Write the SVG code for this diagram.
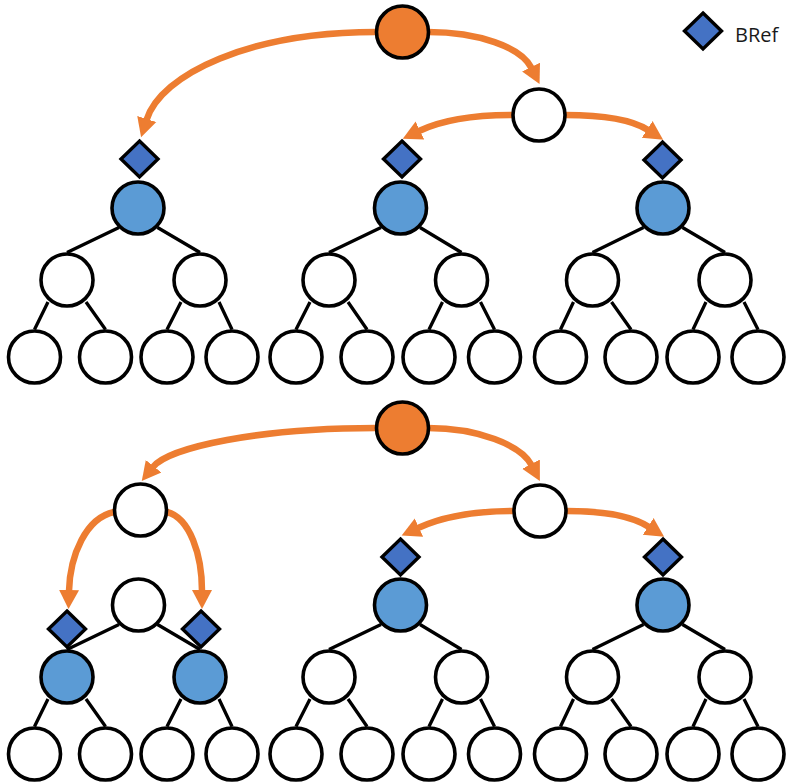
<svg xmlns="http://www.w3.org/2000/svg" width="795" height="783" viewBox="0 0 795 783">
<style>
.n{stroke:#000;stroke-width:3.6}
.w{fill:#fff}
.b{fill:#5B9BD5}
.o{fill:#ED7D31}
.d{fill:#4472C4;stroke:#000;stroke-width:3.4;stroke-linejoin:miter}
.e{stroke:#000;stroke-width:3.3;fill:none}
.a{stroke:#ED7D31;stroke-width:6.5;fill:none;marker-end:url(#ah)}
.t{font-family:"Open Sans","Liberation Sans",Arial,sans-serif;font-size:20px;fill:#1a1a1a}
</style>
<defs>
<marker id="ah" markerUnits="userSpaceOnUse" markerWidth="22" markerHeight="22" viewBox="0 -11 22 22" refX="1" refY="0" orient="auto"><path d="M0,-10 L19,0 L0,10 z" fill="#ED7D31"/></marker>
<polygon id="dia" points="0,-18 18.5,0 0,18 -18.5,0"/>
</defs>
<rect width="795" height="783" fill="#fff"/>
<g id="connectors">
<g id="tree-edges">
<path class="e" d="M119,227.5L67,252.5M157.5,227.5L200,252.5M48,302L34.5,329.5M86,302L105.5,329.5M181,302L167,329.5M219,302L232,329.5"/>
<path class="e" d="M381,227.5L329,252.5M420,227.5L461.5,252.5M310,302L296,329.5M348,302L367,329.5M442.5,302L429,329.5M480.5,302L494.5,329.5"/>
<path class="e" d="M643.5,227.5L592.5,252.5M682.5,227.5L725,252.5M573.5,302L560.5,329.5M611.5,302L631,329.5M706,302L693,329.5M744,302L758,329.5"/>
<path class="e" d="M119,624.5L67,649.5M157.5,624.5L200,649.5M48,699L34.5,726.5M86,699L105.5,726.5M181,699L167,726.5M219,699L232,726.5"/>
<path class="e" d="M381,624.5L329,649.5M420,624.5L461.5,649.5M310,699L296,726.5M348,699L367,726.5M442.5,699L429,726.5M480.5,699L494.5,726.5"/>
<path class="e" d="M643.5,624.5L592.5,649.5M682.5,624.5L725,649.5M573.5,699L560.5,726.5M611.5,699L631,726.5M706,699L693,726.5M744,699L758,726.5"/>
</g>
<g id="arrows">
<path class="a" d="M376,32 C250,32 161,74 146.5,120"/>
<path class="a" d="M428,32 C478,32 521,47 531.5,68"/>
<path class="a" d="M512,115 C470,115 442,120 419,131"/>
<path class="a" d="M565,115 C600,115 631,119 648,130"/>
<path class="a" d="M376,428 C260,428 169,447 153,467"/>
<path class="a" d="M428,428 C478,428 521,445 531.5,465"/>
<path class="a" d="M513,511 C470,511 442,517 418,528"/>
<path class="a" d="M567,511 C603,511 632,516 649,527"/>
<path class="a" d="M114,512 C86,518 70,555 69,591"/>
<path class="a" d="M167,512 C190,518 202,555 202,591"/>
</g>
</g>
<g id="top-orange"><circle class="n o" cx="402.5" cy="32" r="26"/></g>
<g id="top-mid"><circle class="n w" cx="539" cy="115" r="26"/></g>
<g id="t1-root"><circle class="n b" cx="138" cy="208" r="26"/></g>
<g id="t1-l"><circle class="n w" cx="67" cy="280" r="26"/></g>
<g id="t1-r"><circle class="n w" cx="200" cy="280" r="26"/></g>
<g id="t1-ll"><circle class="n w" cx="34.5" cy="357" r="26"/></g>
<g id="t1-lr"><circle class="n w" cx="105.5" cy="357" r="26"/></g>
<g id="t1-rl"><circle class="n w" cx="167" cy="357" r="26"/></g>
<g id="t1-rr"><circle class="n w" cx="232" cy="357" r="26"/></g>
<g id="t2-root"><circle class="n b" cx="400.5" cy="208" r="26"/></g>
<g id="t2-l"><circle class="n w" cx="329" cy="280" r="26"/></g>
<g id="t2-r"><circle class="n w" cx="461.5" cy="280" r="26"/></g>
<g id="t2-ll"><circle class="n w" cx="296" cy="357" r="26"/></g>
<g id="t2-lr"><circle class="n w" cx="367" cy="357" r="26"/></g>
<g id="t2-rl"><circle class="n w" cx="429" cy="357" r="26"/></g>
<g id="t2-rr"><circle class="n w" cx="494.5" cy="357" r="26"/></g>
<g id="t3-root"><circle class="n b" cx="663" cy="208" r="26"/></g>
<g id="t3-l"><circle class="n w" cx="592.5" cy="280" r="26"/></g>
<g id="t3-r"><circle class="n w" cx="725" cy="280" r="26"/></g>
<g id="t3-ll"><circle class="n w" cx="560.5" cy="357" r="26"/></g>
<g id="t3-lr"><circle class="n w" cx="631" cy="357" r="26"/></g>
<g id="t3-rl"><circle class="n w" cx="693" cy="357" r="26"/></g>
<g id="t3-rr"><circle class="n w" cx="758" cy="357" r="26"/></g>
<g id="t1-bref"><use href="#dia" class="d" x="139.5" y="159"/></g>
<g id="t2-bref"><use href="#dia" class="d" x="402" y="159"/></g>
<g id="t3-bref"><use href="#dia" class="d" x="662.5" y="160"/></g>
<g id="bot-orange"><circle class="n o" cx="402.5" cy="428" r="26"/></g>
<g id="bot-left"><circle class="n w" cx="140.5" cy="510" r="26"/></g>
<g id="bot-mid"><circle class="n w" cx="540" cy="511" r="26"/></g>
<g id="b1-root"><circle class="n w" cx="138.5" cy="605" r="26"/></g>
<g id="b1-l"><circle class="n b" cx="67" cy="677" r="26"/></g>
<g id="b1-r"><circle class="n b" cx="200" cy="677" r="26"/></g>
<g id="b1-ll"><circle class="n w" cx="34.5" cy="754" r="26"/></g>
<g id="b1-lr"><circle class="n w" cx="105.5" cy="754" r="26"/></g>
<g id="b1-rl"><circle class="n w" cx="167" cy="754" r="26"/></g>
<g id="b1-rr"><circle class="n w" cx="232" cy="754" r="26"/></g>
<g id="b2-root"><circle class="n b" cx="400.5" cy="605" r="26"/></g>
<g id="b2-l"><circle class="n w" cx="329" cy="677" r="26"/></g>
<g id="b2-r"><circle class="n w" cx="461.5" cy="677" r="26"/></g>
<g id="b2-ll"><circle class="n w" cx="296" cy="754" r="26"/></g>
<g id="b2-lr"><circle class="n w" cx="367" cy="754" r="26"/></g>
<g id="b2-rl"><circle class="n w" cx="429" cy="754" r="26"/></g>
<g id="b2-rr"><circle class="n w" cx="494.5" cy="754" r="26"/></g>
<g id="b3-root"><circle class="n b" cx="663" cy="605" r="26"/></g>
<g id="b3-l"><circle class="n w" cx="592.5" cy="677" r="26"/></g>
<g id="b3-r"><circle class="n w" cx="725" cy="677" r="26"/></g>
<g id="b3-ll"><circle class="n w" cx="560.5" cy="754" r="26"/></g>
<g id="b3-lr"><circle class="n w" cx="631" cy="754" r="26"/></g>
<g id="b3-rl"><circle class="n w" cx="693" cy="754" r="26"/></g>
<g id="b3-rr"><circle class="n w" cx="758" cy="754" r="26"/></g>
<g id="b1-l-bref"><use href="#dia" class="d" x="67" y="629"/></g>
<g id="b1-r-bref"><use href="#dia" class="d" x="201" y="629"/></g>
<g id="b2-bref"><use href="#dia" class="d" x="400.5" y="557"/></g>
<g id="b3-bref"><use href="#dia" class="d" x="663" y="557"/></g>
<g id="legend">
<use href="#dia" class="d" x="703" y="31"/>
<text class="t" x="735" y="42">BRef</text>
</g>
</svg>
